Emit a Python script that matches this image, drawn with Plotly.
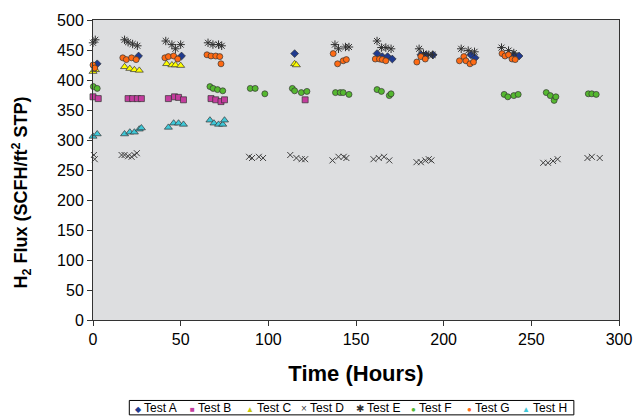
import plotly.graph_objects as go

# ---- data (hours, SCFH/ft2 STP) ----
test_a_t = [2.4, 26, 50.5, 115, 162, 165, 168, 170.7, 187, 190, 194, 215.5, 218, 240, 243]
test_a_y = [427, 440, 440, 444, 444, 439, 439, 435, 442, 442, 442, 442, 437, 442, 440]

test_b_t = [0, 3, 20, 22.6, 25.3, 27.6, 43, 46.5, 48.8, 51.6, 67.3, 70, 73, 75, 121]
test_b_y = [372, 369, 369, 369, 369, 369, 369, 372, 371, 367, 369, 367, 364, 367, 367]

test_c_t = [0, 1.4, 18, 21, 23.6, 26.4, 42, 45, 47, 50, 115, 116]
test_c_y = [414, 417, 422, 419, 417, 416, 427, 425, 425, 424, 427, 425]

test_d_t = [0.5, 1, 16.3, 18, 20, 22, 23.6, 25, 89, 90.7, 94.6, 97,
            112.5, 116, 119, 121, 136.6, 140, 143, 144.5, 160, 163, 166, 169,
            184.5, 187, 189.5, 191.5, 193, 256.8, 259.5, 262.4, 265, 282, 284.5, 289]
test_d_y = [275, 268, 275, 275, 273, 272, 275, 278, 272, 270, 272, 270,
            275, 270, 268, 268, 266, 272, 272, 270, 268, 270, 272, 266,
            263, 263, 266, 268, 266, 262, 262, 265, 268, 270, 272, 270]

test_e_t = [0, 1.3, 18, 20, 22.6, 25.3, 41.5, 45, 47, 50, 65.6, 68.4, 71.6, 73.4,
            138, 140, 144, 146, 162, 164.5, 167, 170, 186, 188.5, 191.5, 193.7,
            210, 214, 217.6, 233, 237, 240]
test_e_y = [462, 467, 467, 463, 460, 457, 465, 459, 452, 459, 462, 459, 459, 457,
            459, 452, 455, 455, 465, 454, 454, 452, 452, 444, 442, 442,
            452, 449, 447, 454, 449, 445]

test_f_t = [0.2, 2.4, 66.7, 68.5, 71, 74, 89.7, 92.5, 98, 113.7, 115, 118.8, 122,
            138.3, 141, 142.7, 146, 162, 164.5, 169, 170, 234.5, 236.6, 240, 242.5,
            258.5, 260.8, 263, 264, 282.5, 284.5, 287]
test_f_y = [389, 386, 389, 386, 384, 382, 386, 386, 377, 386, 382, 379, 381,
            379, 379, 379, 376, 384, 381, 374, 377, 376, 372, 374, 376,
            379, 374, 366, 372, 377, 377, 376]

test_g_t = [0, 1, 17, 19, 22, 24.6, 41, 43, 46, 48.3, 65, 67.3, 70, 72.3, 73,
            137, 139.5, 142.7, 144.5, 161, 163.4, 165, 167, 184.7, 187, 189.5,
            209, 211.5, 212.7, 215, 217, 233.3, 235, 237, 239, 240.8]
test_g_y = [425, 420, 437, 434, 437, 434, 437, 439, 440, 435, 442, 440, 440, 439, 427,
            444, 427, 432, 434, 435, 435, 434, 432, 430, 439, 435,
            432, 439, 432, 427, 430, 444, 440, 442, 435, 434]

test_h_t = [0, 2.4, 18, 21, 23.6, 26.4, 27.6, 43, 46, 48.8, 51.6, 66.7, 69, 71.6, 74, 75]
test_h_y = [306, 310, 310, 313, 313, 318, 320, 321, 328, 328, 326, 333, 328, 326, 326, 333]

x_ticks = [0, 50, 100, 150, 200, 250, 300]
y_ticks = [0, 50, 100, 150, 200, 250, 300, 350, 400, 450, 500]

# name, times, values, marker symbol, colour, size, legend glyph
series = [
    ("Test A", test_a_t, test_a_y, "diamond", "#1F3A8F", 6, "◆"),
    ("Test B", test_b_t, test_b_y, "square", "#C43C9E", 6, "■"),
    ("Test C", test_c_t, test_c_y, "triangle-up", "#FFFF00", 7, "▲"),
    ("Test D", test_d_t, test_d_y, "x-thin-open", "#404040", 6, "×"),
    ("Test E", test_e_t, test_e_y, "asterisk-open", "#303030", 7, "✱"),
    ("Test F", test_f_t, test_f_y, "circle", "#55B830", 6, "●"),
    ("Test G", test_g_t, test_g_y, "circle", "#FF6A13", 6, "●"),
    ("Test H", test_h_t, test_h_y, "triangle-up", "#3EC8D8", 7, "▲"),
]

W, H = 644, 416
ML, MR, MT, MB = 93, 15, 18, 96
PW, PH = W - ML - MR, H - MT - MB


def px_to_paper_x(px):
    return (px - ML) / PW


def px_to_paper_y(py):
    return (H - MB - py) / PH


fig = go.Figure()
for name, t, y, sym, col, size, glyph in series:
    if sym.endswith("-open"):
        marker = dict(symbol=sym, size=size, color=col, line=dict(color=col, width=1))
    else:
        marker = dict(symbol=sym, size=size, color=col, line=dict(color="#333333", width=0.7))
    fig.add_trace(go.Scatter(x=t, y=y, mode="markers", name=name, marker=marker,
                             cliponaxis=False, showlegend=False))

font_family = "Liberation Sans, Arial, sans-serif"

# boxed one-row key below the chart (Excel style)
annotations = []
item_start, item_step, item_y = 134, 56.3, 409
for i, (name, t, y, sym, col, size, glyph) in enumerate(series):
    gcol = "#C8C800" if col == "#FFFF00" else col
    gsize = 8 if glyph in ("●", "■", "◆", "▲") else 10
    annotations.append(dict(
        xref="paper", yref="paper",
        x=px_to_paper_x(item_start + i * item_step), y=px_to_paper_y(item_y),
        xanchor="left", yanchor="middle", showarrow=False,
        text=f'<span style="color:{gcol};font-size:{gsize}px">{glyph}</span> {name}',
        font=dict(size=12, family=font_family, color="black"),
    ))

shapes = [dict(
    type="rect", xref="paper", yref="paper",
    x0=px_to_paper_x(130), x1=px_to_paper_x(583),
    y0=px_to_paper_y(415.5), y1=px_to_paper_y(401),
    line=dict(color="black", width=1), fillcolor="white", layer="below",
)]

fig.update_layout(
    width=W, height=H,
    margin=dict(l=ML, r=MR, t=MT, b=MB),
    paper_bgcolor="white",
    plot_bgcolor="#DDDEE0",
    font=dict(family=font_family, color="black", size=16),
    showlegend=False,
    annotations=annotations,
    shapes=shapes,
    xaxis=dict(
        range=[0, 300], tickvals=x_ticks, ticktext=[str(v) for v in x_ticks],
        showgrid=False, zeroline=False,
        showline=True, linecolor="#333333", linewidth=1, mirror=True,
        ticks="outside", ticklen=5, tickcolor="#333333",
        tickfont=dict(size=16),
        title=dict(text="<b>Time (Hours)</b>", font=dict(size=22), standoff=18),
    ),
    yaxis=dict(
        range=[0, 500], tickvals=y_ticks, ticktext=[str(v) for v in y_ticks],
        showgrid=False, zeroline=False,
        showline=True, linecolor="#333333", linewidth=1, mirror=True,
        ticks="outside", ticklen=5, tickcolor="#333333",
        tickfont=dict(size=16),
        title=dict(text="<b>H<sub>2</sub> Flux (SCFH/ft<sup>2</sup> STP)</b>" + "&nbsp;" * 9,
                   font=dict(size=18), standoff=24),
    ),
)

fig.write_html(
    "out.html",
    config={"displayModeBar": False},
    post_script="document.body.style.margin='0';document.body.style.padding='0';",
)
